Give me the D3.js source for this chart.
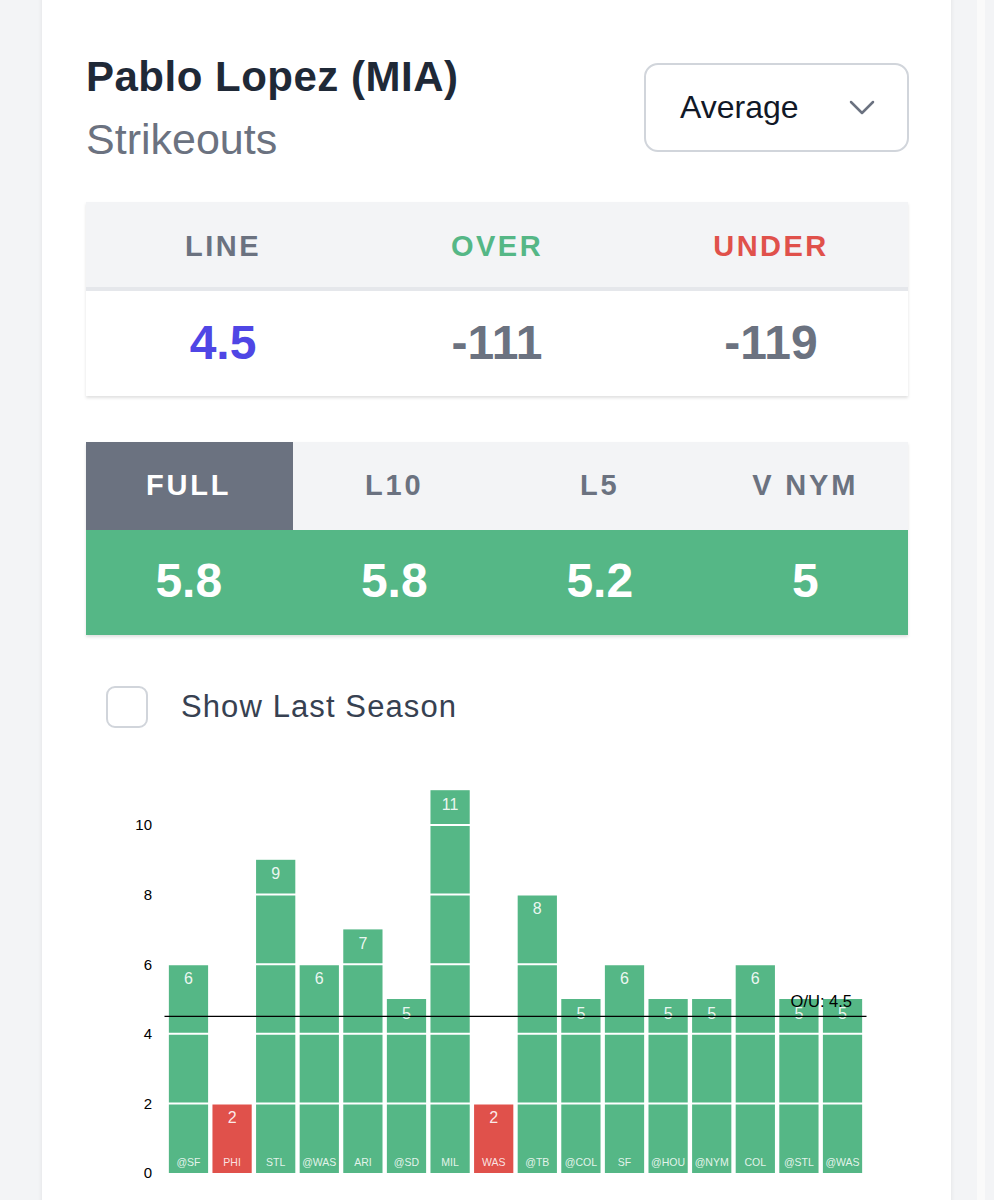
<!DOCTYPE html>
<html>
<head>
<meta charset="utf-8">
<script src="https://cdn.jsdelivr.net/npm/d3@7"></script>
<style>
  html, body { margin: 0; padding: 0; background: #f3f4f6; }
  svg { display: block; font-family: "Liberation Sans", Arial, sans-serif; }
</style>
</head>
<body>
<div id="root"></div>
<script>
// game log (bars)
const opponents = ["@SF", "PHI", "STL", "@WAS", "ARI", "@SD", "MIL", "WAS",
  "@TB", "@COL", "SF", "@HOU", "@NYM", "COL", "@STL", "@WAS"];
const strikeouts = [6, 2, 9, 6, 7, 5, 11, 2, 8, 5, 6, 5, 5, 6, 5, 5];
const propLine = 4.5;
const yTicks = [0, 2, 4, 6, 8, 10];

// the two little tables above the chart
const oddsLabels = ["LINE", "OVER", "UNDER"];
const oddsValues = ["4.5", "-111", "-119"];
const splitLabels = ["FULL", "L10", "L5", "V NYM"];
const splitValues = ["5.8", "5.8", "5.2", "5"];

const green = "#55b786";
const red = "#e0514b";
const slate = "#6b7280";

const W = 994, H = 1200;
const svg = d3.select("#root").append("svg")
  .attr("width", W)
  .attr("height", H);

const defs = svg.append("defs");
defs.append("filter").attr("id", "card").attr("x", "-5%").attr("y", "-5%")
  .attr("width", "110%").attr("height", "110%")
  .append("feDropShadow").attr("dx", 0).attr("dy", 1).attr("stdDeviation", 2)
  .attr("flood-color", "#000").attr("flood-opacity", 0.08);
defs.append("filter").attr("id", "block").attr("x", "-5%").attr("y", "-10%")
  .attr("width", "110%").attr("height", "125%")
  .append("feDropShadow").attr("dx", 0).attr("dy", 2).attr("stdDeviation", 1.5)
  .attr("flood-color", "#000").attr("flood-opacity", 0.12);

// page background + scrollbar strip + card
svg.append("rect").attr("width", W).attr("height", H).attr("fill", "#f3f4f6");
svg.append("rect").attr("x", 977).attr("y", 0).attr("width", 8).attr("height", H)
  .attr("fill", "#fafafa");
svg.append("rect")
  .attr("x", 42).attr("y", -30).attr("width", 909).attr("height", 1300)
  .attr("rx", 24).attr("fill", "#fff").attr("filter", "url(#card)");

// header
svg.append("text").attr("x", 86).attr("y", 91)
  .attr("font-size", 42).attr("font-weight", 700).attr("fill", "#1f2937")
  .attr("letter-spacing", 0.5)
  .text("Pablo Lopez (MIA)");
svg.append("text").attr("x", 86).attr("y", 154)
  .attr("font-size", 43).attr("fill", slate)
  .text("Strikeouts");

// dropdown
svg.append("rect").attr("x", 645).attr("y", 64).attr("width", 263).attr("height", 87)
  .attr("rx", 13).attr("fill", "#fff").attr("stroke", "#d1d5db").attr("stroke-width", 2);
svg.append("text").attr("x", 680).attr("y", 118)
  .attr("font-size", 32).attr("fill", "#111827")
  .text("Average");
svg.append("path").attr("d", "M851,102 L862,113 L873,102")
  .attr("fill", "none").attr("stroke", slate).attr("stroke-width", 2.5)
  .attr("stroke-linecap", "round").attr("stroke-linejoin", "round");

// odds table
const tableX = 86, tableW = 822;
const oddsCol = d3.scaleBand().domain(oddsLabels).range([tableX, tableX + tableW]);
const odds = svg.append("g");
odds.append("rect").attr("x", tableX).attr("y", 202).attr("width", tableW).attr("height", 194)
  .attr("fill", "#fff").attr("filter", "url(#block)");
odds.append("rect").attr("x", tableX).attr("y", 202).attr("width", tableW).attr("height", 86)
  .attr("fill", "#f3f4f6");
odds.append("rect").attr("x", tableX).attr("y", 287).attr("width", tableW).attr("height", 4)
  .attr("fill", "#e5e7eb");
const headColors = [slate, green, red];
odds.selectAll(".oddsHead").data(oddsLabels).join("text")
  .attr("class", "oddsHead")
  .attr("x", d => oddsCol(d) + oddsCol.bandwidth() / 2)
  .attr("y", 256)
  .attr("text-anchor", "middle")
  .attr("font-size", 29).attr("font-weight", 700).attr("letter-spacing", 2.5)
  .attr("fill", (d, i) => headColors[i])
  .text(d => d);
odds.selectAll(".oddsVal").data(oddsValues).join("text")
  .attr("class", "oddsVal")
  .attr("x", (d, i) => oddsCol(oddsLabels[i]) + oddsCol.bandwidth() / 2)
  .attr("y", 359)
  .attr("text-anchor", "middle")
  .attr("font-size", 48).attr("font-weight", 700)
  .attr("fill", (d, i) => i === 0 ? "#4f46e5" : slate)
  .text(d => d);

// split tabs
const splitCol = d3.scaleBand().domain(splitLabels).range([tableX, tableX + tableW]);
const splits = svg.append("g");
splits.append("rect").attr("x", tableX).attr("y", 442).attr("width", tableW).attr("height", 193)
  .attr("fill", green).attr("filter", "url(#block)");
splits.append("rect").attr("x", tableX).attr("y", 442).attr("width", tableW).attr("height", 88)
  .attr("fill", "#f3f4f6");
splits.append("rect").attr("x", splitCol("FULL")).attr("y", 442)
  .attr("width", splitCol.bandwidth() + 1.5).attr("height", 88)
  .attr("fill", slate);
splits.selectAll(".splitHead").data(splitLabels).join("text")
  .attr("class", "splitHead")
  .attr("x", d => splitCol(d) + splitCol.bandwidth() / 2)
  .attr("y", 495)
  .attr("text-anchor", "middle")
  .attr("font-size", 29).attr("font-weight", 700).attr("letter-spacing", 2.8)
  .attr("fill", d => d === "FULL" ? "#fff" : slate)
  .text(d => d);
splits.selectAll(".splitVal").data(splitValues).join("text")
  .attr("class", "splitVal")
  .attr("x", (d, i) => splitCol(splitLabels[i]) + splitCol.bandwidth() / 2)
  .attr("y", 597)
  .attr("text-anchor", "middle")
  .attr("font-size", 48).attr("font-weight", 700).attr("fill", "#fff")
  .text(d => d);

// checkbox
svg.append("rect").attr("x", 107).attr("y", 687).attr("width", 40).attr("height", 40)
  .attr("rx", 8).attr("fill", "#fff").attr("stroke", "#d1d5db").attr("stroke-width", 2);
svg.append("text").attr("x", 181).attr("y", 717)
  .attr("font-size", 31).attr("fill", "#374151").attr("letter-spacing", 1.1)
  .text("Show Last Season");

// bar chart
const x = d3.scaleBand()
  .domain(d3.range(strikeouts.length))
  .range([164.5, 866.5])
  .padding(0.1);
const y = d3.scaleLinear().domain([0, 10]).range([1173, 825]);

const chart = svg.append("g");

chart.selectAll(".bar").data(strikeouts).join("rect")
  .attr("class", "bar")
  .attr("x", (d, i) => x(i))
  .attr("y", d => y(d))
  .attr("width", x.bandwidth())
  .attr("height", d => y(0) - y(d))
  .attr("fill", d => d > propLine ? green : red);

// white grid lines cut through the bars
chart.selectAll(".grid").data(yTicks.filter(t => t > 0)).join("line")
  .attr("class", "grid")
  .attr("x1", 164.5).attr("x2", 866.5)
  .attr("y1", d => y(d)).attr("y2", d => y(d))
  .attr("stroke", "#fff").attr("stroke-width", 2);

const yAxis = chart.append("g")
  .attr("transform", "translate(155,0)")
  .call(d3.axisLeft(y).tickValues(yTicks).tickSize(0).tickPadding(3));
yAxis.select(".domain").remove();
yAxis.selectAll("text")
  .attr("font-size", 15)
  .attr("font-family", "Liberation Sans, Arial, sans-serif")
  .attr("fill", "#000");

chart.selectAll(".val").data(strikeouts).join("text")
  .attr("class", "val")
  .attr("x", (d, i) => x(i) + x.bandwidth() / 2)
  .attr("y", d => y(d) + 19.5)
  .attr("text-anchor", "middle")
  .attr("font-size", 16)
  .attr("fill", "rgba(255,255,255,0.9)")
  .text(d => d);

chart.selectAll(".opp").data(opponents).join("text")
  .attr("class", "opp")
  .attr("x", (d, i) => x(i) + x.bandwidth() / 2)
  .attr("y", 1165.5)
  .attr("text-anchor", "middle")
  .attr("font-size", 10.5)
  .attr("fill", "rgba(255,255,255,0.85)")
  .text(d => d);

// over/under line
chart.append("line")
  .attr("x1", 164.5).attr("x2", 866.5)
  .attr("y1", y(propLine)).attr("y2", y(propLine))
  .attr("stroke", "#000").attr("stroke-width", 1.3);
chart.append("text")
  .attr("x", 852).attr("y", 1007)
  .attr("text-anchor", "end")
  .attr("font-size", 16.5).attr("fill", "#000")
  .text(`O/U: ${propLine}`);
</script>
</body>
</html>
